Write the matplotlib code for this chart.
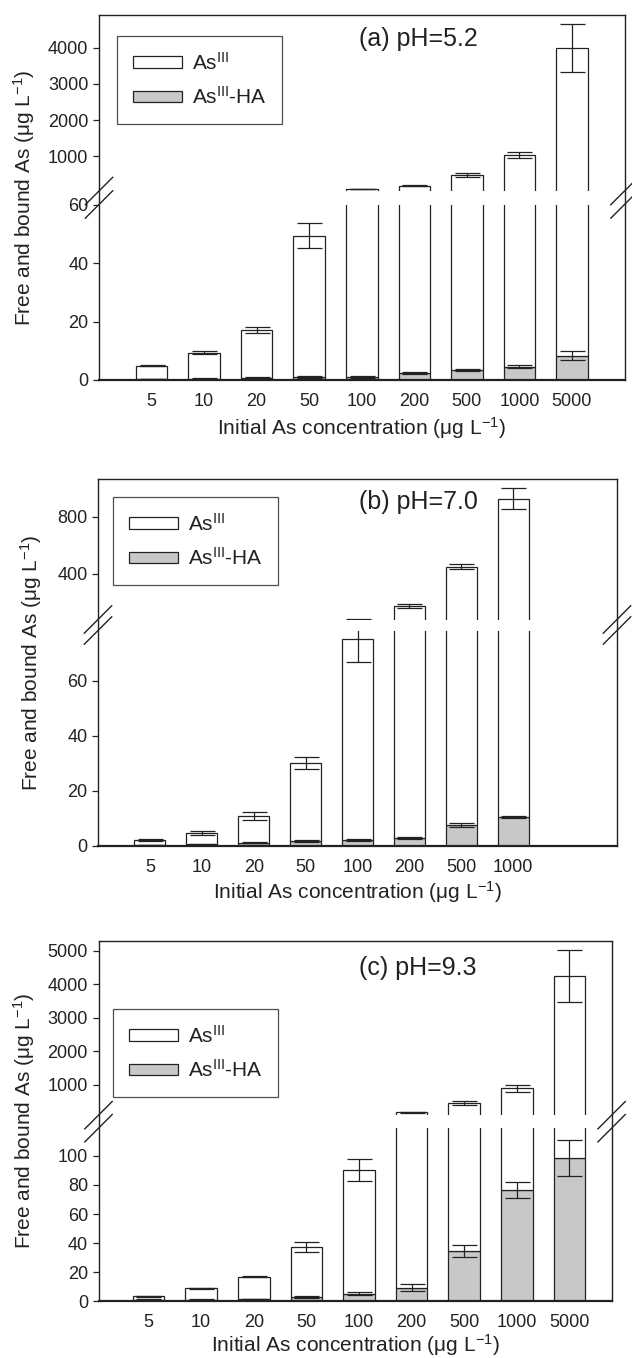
"""Free and bound As(III) stacked bars at three pH values, broken y axes."""

import matplotlib

matplotlib.use("Agg")
import matplotlib.pyplot as plt
import numpy as np
from matplotlib import font_manager
from matplotlib.lines import Line2D
from matplotlib.patches import Patch, Rectangle

W, H = 632, 1358

categories = ["5", "10", "20", "50", "100", "200", "500", "1000", "5000"]

# (a) pH 5.2 -- free As(III) sits on top of the HA-bound part
free_a = [4.6, 8.9, 16.3, 48.4, 96.0, 187.7, 482.6, 1025.5, 3991.7]
free_err_a = [0.2, 0.4, 1.0, 4.2, 2.0, 6.0, 50, 80, 660]
bound_a = [0.3, 0.5, 0.7, 1.0, 1.0, 2.3, 3.4, 4.5, 8.3]
bound_err_a = [0.1, 0.1, 0.2, 0.3, 0.3, 0.3, 0.4, 0.5, 1.6]

# (b) pH 7.0 -- no 5000 ug/L point
free_b = [1.8, 4.2, 9.7, 28.5, 73.1, 174.2, 443.4, 915.5]
free_err_b = [0.3, 0.8, 1.5, 2.2, 8.3, 16, 17, 75]
bound_b = [0.3, 0.5, 1.1, 1.7, 2.0, 2.8, 7.6, 10.5]
bound_err_b = [0.1, 0.1, 0.2, 0.3, 0.3, 0.3, 0.8, 0.4]

# (c) pH 9.3
free_c = [2.1, 7.7, 15.3, 34.2, 85.2, 166.7, 410.3, 815.5, 4155.6]
free_err_c = [0.5, 0.3, 0.3, 3.5, 7.7, 10, 60, 100, 770]
bound_c = [1.2, 1.2, 1.5, 3.2, 5.2, 9.3, 34.7, 76.5, 98.4]
bound_err_c = [0.2, 0.2, 0.2, 0.6, 1.2, 2.3, 4.3, 5.5, 12.6]

titles = ["(a) pH=5.2", "(b) pH=7.0", "(c) pH=9.3"]

GRAY = "#c8c8c8"
EDGE = "#222222"

names = {f.name for f in font_manager.fontManager.ttflist}
FONT = "Liberation Sans" if "Liberation Sans" in names else "DejaVu Sans"
plt.rcParams["font.family"] = [FONT, "DejaVu Sans"]
plt.rcParams["mathtext.fontset"] = "custom"
plt.rcParams["mathtext.rm"] = FONT
plt.rcParams["mathtext.default"] = "regular"
plt.rcParams["text.color"] = EDGE
plt.rcParams["axes.edgecolor"] = EDGE
plt.rcParams["xtick.color"] = EDGE
plt.rcParams["ytick.color"] = EDGE

# pixel layout of each panel: left, right, top, upper-bottom, lower-top, bottom
# break: lower part runs 0..brk_lo, upper part starts again at brk_up
panels = [
    dict(free=free_a, free_err=free_err_a, bound=bound_a, bound_err=bound_err_a,
         box=(99, 624.5, 15, 191, 204.5, 380), xlim=(0, 10),
         brk_lo=60, brk_up=41, ytop=4900,
         yticks=[0, 20, 40, 60, 1000, 2000, 3000, 4000],
         legend=(117, 36), title_xy=(418, 39), ylabel_x=24, xlabel_y=428),
    dict(free=free_b, free_err=free_err_b, bound=bound_b, bound_err=bound_err_b,
         box=(98, 617, 479.3, 619.5, 630.5, 845.7), xlim=(0, 10),
         brk_lo=78.3, brk_up=82, ytop=1060,
         yticks=[0, 20, 40, 60, 400, 800],
         legend=(113, 497), title_xy=(418, 502), ylabel_x=31, xlabel_y=892),
    dict(free=free_c, free_err=free_err_c, bound=bound_c, bound_err=bound_err_c,
         box=(98.5, 611.6, 941, 1115.2, 1128.2, 1301.3), xlim=(0.05, 9.8),
         brk_lo=119, brk_up=90, ytop=5290,
         yticks=[0, 20, 40, 60, 80, 100, 1000, 2000, 3000, 4000, 5000],
         legend=(113, 1009), title_xy=(418, 968), ylabel_x=24, xlabel_y=1345),
]


def broken_scale(lo, up, k_lo, k_up, gap):
    """Piecewise-linear y mapping (in pixels) with a jump of `gap` at the break."""
    base = lo * k_lo

    def fwd(v):
        v = np.asarray(v, dtype=float)
        return np.where(v <= lo, v * k_lo, base + gap + (v - up) * k_up)

    def inv(y):
        y = np.asarray(y, dtype=float)
        return np.where(y <= base, y / k_lo,
                        np.where(y <= base + gap, lo, up + (y - base - gap) / k_up))

    return fwd, inv


def fig_line(fig, xs, ys, lw=1.0):
    fig.add_artist(Line2D([x / W for x in xs], [1 - y / H for y in ys],
                          transform=fig.transFigure, color=EDGE, lw=lw, zorder=6))


fig = plt.figure(figsize=(W / 100, H / 100), dpi=100)

for p, title in zip(panels, titles):
    left, right, top, ub, lt, bottom = p["box"]
    ax = fig.add_axes([left / W, 1 - bottom / H, (right - left) / W, (bottom - top) / H])

    h_lo, h_up, gap = bottom - lt, ub - top, lt - ub
    k_lo = h_lo / p["brk_lo"]
    k_up = h_up / (p["ytop"] - p["brk_up"])
    ax.set_yscale("function", functions=broken_scale(p["brk_lo"], p["brk_up"], k_lo, k_up, gap))
    ax.set_ylim(0, p["ytop"])
    ax.set_xlim(*p["xlim"])

    n = len(p["free"])
    x = np.arange(1, n + 1)
    total = np.add(p["free"], p["bound"])
    ax.bar(x, p["bound"], width=0.6, color=GRAY, edgecolor=EDGE, linewidth=0.9, zorder=2)
    ax.bar(x, p["free"], bottom=p["bound"], width=0.6, color="white",
           edgecolor=EDGE, linewidth=0.9, zorder=2)
    kw = dict(fmt="none", ecolor=EDGE, elinewidth=0.9, capsize=9, capthick=0.9, zorder=3)
    ax.errorbar(x, p["bound"], yerr=p["bound_err"], **kw)
    ax.errorbar(x, total, yerr=p["free_err"], **kw)

    # white band that interrupts the bars at the break
    y0 = 1 - (lt - top) / (bottom - top)
    y1 = 1 - (ub - top) / (bottom - top)
    ax.add_patch(Rectangle((0, y0), 1, y1 - y0, transform=ax.transAxes,
                           facecolor="white", edgecolor="none", zorder=4))

    for s in ax.spines.values():
        s.set_linewidth(1.0)
        s.set_zorder(5)
    ax.spines["bottom"].set_linewidth(1.6)

    ax.set_yticks(p["yticks"])
    ax.set_yticklabels([str(t) for t in p["yticks"]])
    ax.minorticks_off()
    ax.tick_params(axis="y", direction="out", length=4.6, width=0.9, pad=3, labelsize=13)
    ax.set_xticks(x)
    ax.set_xticklabels(categories[:n])
    ax.tick_params(axis="x", length=0, pad=9.5, labelsize=13)

    # axis break slashes across both spines
    d = 13.7
    for xs in (left, right):
        for y in (ub, lt):
            fig_line(fig, [xs - d, xs + d], [y + d, y - d])

    fig.text(p["title_xy"][0] / W, 1 - p["title_xy"][1] / H, title,
             fontsize=18, ha="center", va="center")
    fig.text(p["ylabel_x"] / W, 1 - (top + bottom) / 2 / H,
             r"Free and bound As ($\mu$g L$^{-1}$)", rotation=90,
             fontsize=15, ha="center", va="center")
    fig.text((left + right) / 2 / W, 1 - p["xlabel_y"] / H,
             r"Initial As concentration ($\mu$g L$^{-1}$)",
             fontsize=15, ha="center", va="center")

    handles = [
        Patch(facecolor="white", edgecolor=EDGE, linewidth=0.9, label=r"As$^{\rm III}$"),
        Patch(facecolor=GRAY, edgecolor=EDGE, linewidth=0.9, label=r"As$^{\rm III}$-HA"),
    ]
    lx, ly = p["legend"]
    leg = ax.legend(handles=handles, loc="upper left",
                    bbox_to_anchor=(lx / W, 1 - ly / H), bbox_transform=fig.transFigure,
                    borderaxespad=0, fontsize=15, frameon=True, fancybox=False,
                    edgecolor=EDGE, handlelength=2.35, handleheight=0.47,
                    handletextpad=0.5, borderpad=0.75, labelspacing=0.6)
    leg.get_frame().set_linewidth(0.9)
    leg.set_zorder(7)

fig.savefig("out.png", dpi=100)
